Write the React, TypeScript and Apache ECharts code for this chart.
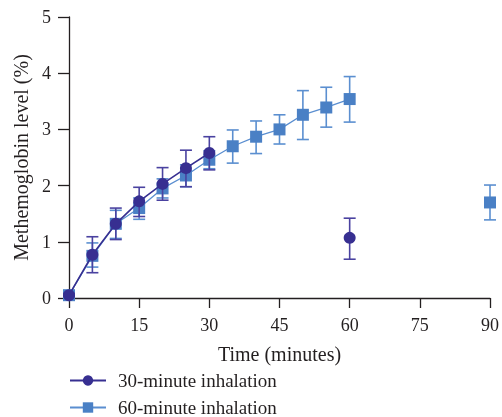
import React, { useEffect, useRef } from "react";
import * as echarts from "echarts";

const xTicks = [0, 15, 30, 45, 60, 75, 90];
const yTicks = [0, 1, 2, 3, 4, 5];

const name30 = "30-minute inhalation";
const times30 = [0, 5, 10, 15, 20, 25, 30, 60];
const mean30 = [0.05, 0.77, 1.32, 1.72, 2.03, 2.31, 2.58, 1.07];
const lo30 = [0.03, 0.45, 1.04, 1.45, 1.74, 1.98, 2.28, 0.69];
const hi30 = [0.08, 1.09, 1.6, 1.97, 2.32, 2.63, 2.87, 1.42];
const isolated30 = [60];

const name60 = "60-minute inhalation";
const times60 = [0, 5, 10, 15, 20, 25, 30, 35, 40, 45, 50, 55, 60, 90];
const mean60 = [0.05, 0.75, 1.32, 1.6, 1.95, 2.18, 2.46, 2.7, 2.87, 3.0, 3.26, 3.39, 3.54, 1.7];
const lo60 = [0.03, 0.55, 1.06, 1.4, 1.78, 1.98, 2.3, 2.4, 2.57, 2.74, 2.82, 3.04, 3.13, 1.39];
const hi60 = [0.07, 0.98, 1.56, 1.78, 2.12, 2.37, 2.62, 2.99, 3.15, 3.26, 3.69, 3.75, 3.94, 2.01];
const isolated60 = [90];

const FONT = "'Liberation Serif', 'DejaVu Serif', serif";
const TEXT = "#231f20";

function lineData(t: number[], m: number[], iso: number[]) {
  const out: any[] = [];
  t.forEach((x, i) => {
    if (iso.includes(x)) out.push([x - 0.01, "-"]);
    out.push([x, m[i]]);
  });
  return out;
}

function errData(t: number[], lo: number[], hi: number[]) {
  return t.map((x, i) => [x, lo[i], hi[i]]);
}

function errSeries(name: string, data: any[], color: string, z: number) {
  return {
    type: "custom",
    name,
    z,
    data,
    encode: { x: 0, y: [1, 2] },
    renderItem: (params: any, api: any) => {
      const x = api.value(0);
      const pLo = api.coord([x, api.value(1)]);
      const pHi = api.coord([x, api.value(2)]);
      const half = 6;
      const style = { stroke: color, lineWidth: 1.6 };
      return {
        type: "group",
        children: [
          { type: "line", shape: { x1: pHi[0], y1: pHi[1], x2: pLo[0], y2: pLo[1] }, style },
          { type: "line", shape: { x1: pHi[0] - half, y1: pHi[1], x2: pHi[0] + half, y2: pHi[1] }, style },
          { type: "line", shape: { x1: pLo[0] - half, y1: pLo[1], x2: pLo[0] + half, y2: pLo[1] }, style },
        ],
      };
    },
  };
}

export default function App() {
  const ref = useRef<HTMLDivElement>(null);
  useEffect(() => {
    if (!ref.current) return;
    const chart = echarts.init(ref.current, undefined, { renderer: "svg" });
    const purple = "#372f91";
    const blue = "#4a80c5";
    chart.setOption({
      animation: false,
      textStyle: { fontFamily: FONT },
      grid: { left: 69, right: 11, top: 17, bottom: 119, containLabel: false },
      legend: {
        orient: "vertical",
        left: 69,
        top: 371,
        padding: 0,
        itemGap: 8,
        itemWidth: 36,
        itemHeight: 13,
        data: [name30, name60],
        textStyle: {
          fontFamily: FONT,
          fontSize: 19,
          lineHeight: 19,
          color: TEXT,
          padding: [0, 0, 0, 7],
        },
      },
      xAxis: {
        type: "value",
        min: xTicks[0],
        max: xTicks[xTicks.length - 1],
        interval: 15,
        name: "Time (minutes)",
        nameLocation: "middle",
        nameGap: 46,
        nameTextStyle: { fontFamily: FONT, fontSize: 20, color: TEXT },
        axisLine: { lineStyle: { color: TEXT, width: 1.3 } },
        axisTick: { show: true, length: 10, inside: false, lineStyle: { color: TEXT, width: 1.3 } },
        axisLabel: { fontFamily: FONT, fontSize: 18, color: TEXT, margin: 18 },
        splitLine: { show: false },
      },
      yAxis: {
        type: "value",
        min: yTicks[0],
        max: yTicks[yTicks.length - 1],
        interval: 1,
        name: "Methemoglobin level (%)",
        nameLocation: "middle",
        nameGap: 38,
        nameTextStyle: { fontFamily: FONT, fontSize: 20, color: TEXT },
        axisLine: { show: true, lineStyle: { color: TEXT, width: 1.3 } },
        axisTick: { show: true, length: 11, inside: false, lineStyle: { color: TEXT, width: 1.3 } },
        axisLabel: { fontFamily: FONT, fontSize: 18, color: TEXT, margin: 18 },
        splitLine: { show: false },
      },
      series: [
        errSeries("err60", errData(times60, lo60, hi60), "#5b8fd0", 1),
        {
          type: "line",
          name: name60,
          z: 2,
          data: lineData(times60, mean60, isolated60),
          symbol: "rect",
          symbolSize: 12,
          showSymbol: true,
          connectNulls: false,
          lineStyle: { color: "#5a8ed0", width: 1.3 },
          itemStyle: { color: blue },
          emphasis: { disabled: true },
        },
        errSeries("err30", errData(times30, lo30, hi30), "#4a42a0", 3),
        {
          type: "line",
          name: name30,
          z: 4,
          data: lineData(times30, mean30, isolated30),
          symbol: "circle",
          symbolSize: 12,
          showSymbol: true,
          connectNulls: false,
          lineStyle: { color: purple, width: 1.6 },
          itemStyle: { color: purple },
          emphasis: { disabled: true },
        },
      ],
    });
    return () => chart.dispose();
  }, []);
  return (
    <div
      ref={ref}
      style={{ position: "fixed", left: 0, top: 0, width: 502, height: 417 }}
    />
  );
}
